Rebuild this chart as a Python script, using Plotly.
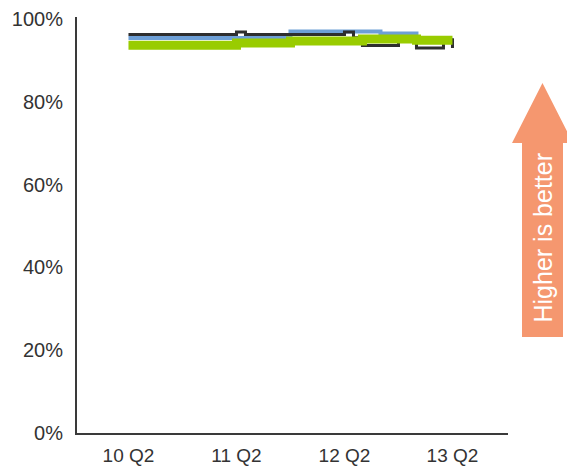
import plotly.graph_objects as go

# Monthly observations, 10 Q2 (month 0) through 13 Q2 (month 36)
months = list(range(37))

series_dark = ([96.3] * 12 + [96.9] + [96.3] * 11 + [96.9] + [95.5]
               + [93.6] * 4 + [95.0] * 2 + [93.0] * 3 + [95.0] + [93.0])
series_blue = [95.4] * 18 + [97.0] * 10 + [96.5] * 4 + [95.0] * 5
series_green = [93.7] * 12 + [94.2] * 6 + [94.7] * 8 + [95.2] * 6 + [94.9] * 5

tick_months = [0, 12, 24, 36]
tick_labels = ["10 Q2", "11 Q2", "12 Q2", "13 Q2"]
y_ticks = [0, 20, 40, 60, 80, 100]
y_tick_labels = ["0%", "20%", "40%", "60%", "80%", "100%"]

W, H = 567, 469
M_L, M_R, M_T, M_B = 77, 59, 17, 36
PLOT_W = W - M_L - M_R
PLOT_H = H - M_T - M_B

FONT = "Liberation Sans, Arial, sans-serif"

fig = go.Figure()
fig.add_trace(go.Scatter(x=months, y=series_blue, mode="lines",
                         line=dict(color="#6d9fd6", width=4, shape="hv"),
                         showlegend=False, hoverinfo="skip"))
fig.add_trace(go.Scatter(x=months, y=series_dark, mode="lines",
                         line=dict(color="#2e2e2e", width=3, shape="hv"),
                         showlegend=False, hoverinfo="skip"))
fig.add_trace(go.Scatter(x=months, y=series_green, mode="lines",
                         line=dict(color="#99cc00", width=9, shape="hv"),
                         showlegend=False, hoverinfo="skip"))


def px(x, y):
    """Pixel position on the page -> paper coordinates."""
    return (x - M_L) / PLOT_W, (H - M_B - y) / PLOT_H


# "Higher is better" arrow on the right
pts = [(542.5, 83), (573, 143), (563, 143), (563, 337),
       (522, 337), (522, 143), (512, 143)]
path = "M " + " L ".join(f"{px(a, b)[0]:.4f},{px(a, b)[1]:.4f}" for a, b in pts) + " Z"
fig.add_shape(type="path", path=path, xref="paper", yref="paper",
              fillcolor="#f5976f", line=dict(width=0), layer="above")
tx, ty = px(542.5, 238)
fig.add_annotation(x=tx, y=ty, xref="paper", yref="paper", text="Higher is better",
                   textangle=-90, showarrow=False, xanchor="center", yanchor="middle",
                   font=dict(family=FONT, size=25, color="white"))

fig.update_layout(
    width=W, height=H,
    margin=dict(l=M_L, r=M_R, t=M_T, b=M_B, autoexpand=False),
    paper_bgcolor="white", plot_bgcolor="white",
    font=dict(family=FONT, size=20, color="#333333"),
)
fig.update_xaxes(range=[-5.72, 42.17], tickvals=tick_months, ticktext=tick_labels,
                 tickfont=dict(size=19),
                 showgrid=False, zeroline=False, showline=True, linecolor="#3a3a3a",
                 linewidth=2, ticks="", ticklabelstandoff=4, automargin=False)
fig.update_yaxes(range=[0, 100.5], tickvals=y_ticks, ticktext=y_tick_labels,
                 showgrid=False, zeroline=False, showline=True, linecolor="#3a3a3a",
                 linewidth=2, ticks="", ticklabelstandoff=8, automargin=False)

fig.write_html("out.html")
